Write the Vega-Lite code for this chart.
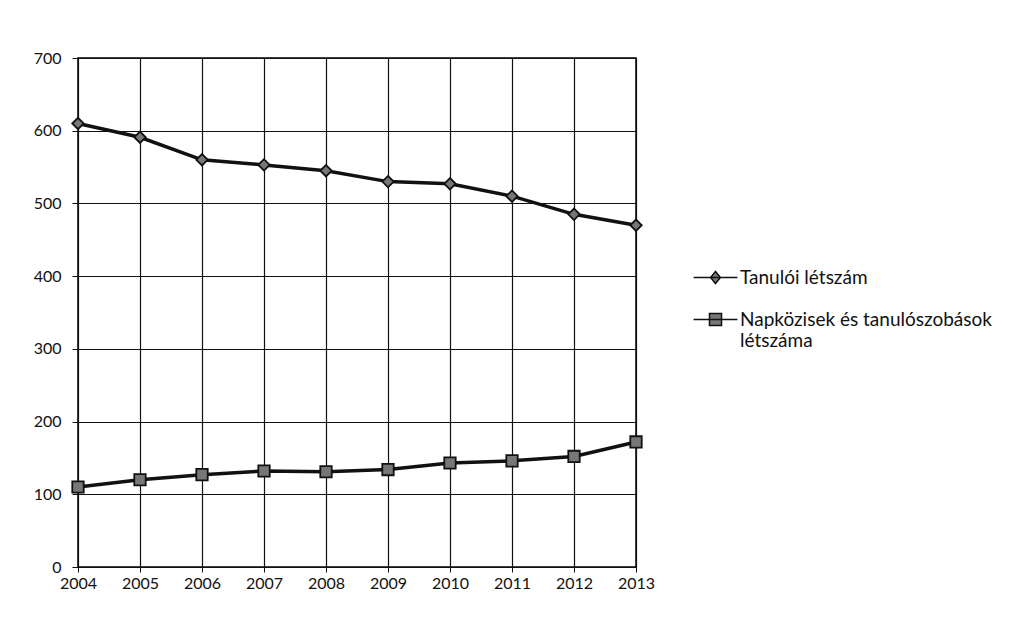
{
  "$schema": "https://vega.github.io/schema/vega-lite/v6.json",
  "width": 558,
  "height": 509,
  "autosize": "none",
  "padding": {"left": 78, "top": 58, "right": 393, "bottom": 71},
  "background": "white",
  "config": {
    "font": "Lato",
    "view": {"stroke": "black", "strokeWidth": 1.5},
    "axis": {"labelFont": "Lato", "labelFontSize": 16, "labelColor": "#111", "gridColor": "#111", "gridOpacity": 1, "gridWidth": 1.2, "domainColor": "#111", "tickColor": "#111"}
  },
  "data": {
    "values": [
      {"year": 2004, "series": "Tanulói létszám", "value": 610},
      {"year": 2005, "series": "Tanulói létszám", "value": 591},
      {"year": 2006, "series": "Tanulói létszám", "value": 560},
      {"year": 2007, "series": "Tanulói létszám", "value": 553},
      {"year": 2008, "series": "Tanulói létszám", "value": 545},
      {"year": 2009, "series": "Tanulói létszám", "value": 530},
      {"year": 2010, "series": "Tanulói létszám", "value": 527},
      {"year": 2011, "series": "Tanulói létszám", "value": 510},
      {"year": 2012, "series": "Tanulói létszám", "value": 485},
      {"year": 2013, "series": "Tanulói létszám", "value": 470},
      {"year": 2004, "series": "Napközisek és tanulószobások létszáma", "value": 110},
      {"year": 2005, "series": "Napközisek és tanulószobások létszáma", "value": 120},
      {"year": 2006, "series": "Napközisek és tanulószobások létszáma", "value": 127},
      {"year": 2007, "series": "Napközisek és tanulószobások létszáma", "value": 132},
      {"year": 2008, "series": "Napközisek és tanulószobások létszáma", "value": 131},
      {"year": 2009, "series": "Napközisek és tanulószobások létszáma", "value": 134},
      {"year": 2010, "series": "Napközisek és tanulószobások létszáma", "value": 143},
      {"year": 2011, "series": "Napközisek és tanulószobások létszáma", "value": 146},
      {"year": 2012, "series": "Napközisek és tanulószobások létszáma", "value": 152},
      {"year": 2013, "series": "Napközisek és tanulószobások létszáma", "value": 172}
    ]
  },
  "encoding": {
    "x": {
      "field": "year", "type": "quantitative",
      "scale": {"domain": [2004, 2013], "nice": false, "zero": false},
      "axis": {"title": null, "format": "d", "values": [2004,2005,2006,2007,2008,2009,2010,2011,2012,2013], "grid": true, "tickSize": 5, "labelPadding": 3, "labelFlush": false, "labelOverlap": false, "domain": true}
    },
    "y": {
      "field": "value", "type": "quantitative",
      "scale": {"domain": [0, 700], "nice": false},
      "axis": {"title": null, "values": [0,100,200,300,400,500,600,700], "grid": true, "tickSize": 6, "labelPadding": 11, "labelFlush": false}
    }
  },
  "layer": [
    {
      "mark": {"type": "line", "strokeWidth": 3.5, "color": "#111"},
      "encoding": {"detail": {"field": "series"}}
    },
    {
      "mark": {"type": "point", "filled": true, "size": 130, "strokeWidth": 1.8, "opacity": 1},
      "encoding": {
        "shape": {"condition": {"test": "datum.series == 'Tanulói létszám'", "value": "diamond"}, "value": "square"},
        "fill": {"value": "#777"},
        "stroke": {"value": "#111"}
      }
    },
    {
      "mark": {"type": "point", "filled": true, "size": 120, "strokeWidth": 2, "opacity": 0},
      "encoding": {
        "shape": {
          "field": "series", "type": "nominal",
          "scale": {"domain": ["Tanulói létszám", "Napközisek és tanulószobások létszáma"], "range": ["M-4,0H4M0,-1.1L0.9,0L0,1.1L-0.9,0Z", "M-4,0H4M-1.1,-1.1H1.1V1.1H-1.1Z"]},
          "legend": {
            "title": null, "orient": "none", "legendX": 628, "legendY": 210,
            "labelFont": "Lato", "labelFontSize": 19, "labelColor": "#111",
            "symbolSize": 120,
            "rowPadding": 22, "labelLimit": 400, "labelOffset": 15,
            "labelExpr": "datum.label == 'Napközisek és tanulószobások létszáma' ? ['Napközisek és tanulószobások', 'létszáma'] : datum.label",
            "encode": {"symbols": {"update": {"stroke": {"value": "#111"}, "strokeWidth": {"value": 3}, "fill": {"value": "#777"}, "opacity": {"value": 1}, "fillOpacity": {"value": 1}, "strokeOpacity": {"value": 1}}}}
          }
        },
        "fill": {"value": "#777"},
        "stroke": {"value": "#111"}
      }
    }
  ]
}
